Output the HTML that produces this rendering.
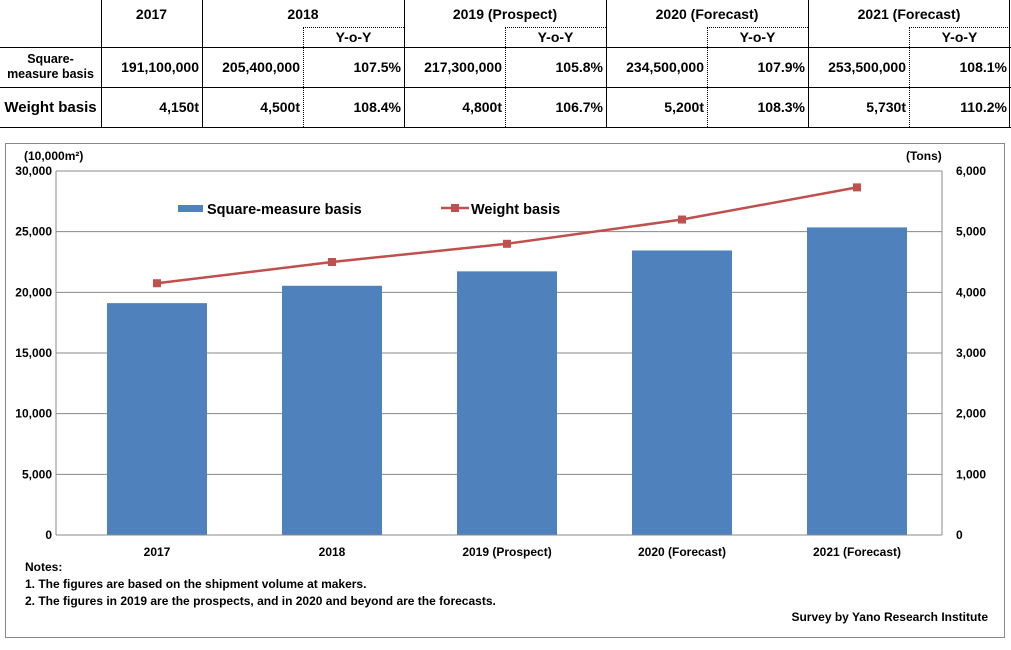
<!DOCTYPE html>
<html><head><meta charset="utf-8">
<style>
body{margin:0;width:1011px;height:650px;background:#fff;font-family:"Liberation Sans","DejaVu Sans",sans-serif;overflow:hidden;position:relative}
.c{position:absolute;font-weight:bold;font-size:14px;white-space:nowrap;box-sizing:border-box;display:flex;align-items:center}
.r{justify-content:flex-end;padding-right:3px}
.m{justify-content:center;text-align:center}
.h{position:absolute;height:0;border-top:1px solid #000}
.v{position:absolute;width:0;border-left:1px solid #000}
.hd{position:absolute;height:0;border-top:1px dotted #000}
.vd{position:absolute;width:0;border-left:1px dotted #000}
</style></head><body>
<div>
<div class="h" style="left:0;width:1011px;top:47px"></div>
<div class="h" style="left:0;width:1011px;top:87px"></div>
<div class="h" style="left:0;width:1011px;top:127px"></div>
<div class="v" style="left:101px;top:0;height:128px"></div>
<div class="v" style="left:202px;top:0;height:128px"></div>
<div class="v" style="left:404px;top:0;height:128px"></div>
<div class="v" style="left:606px;top:0;height:128px"></div>
<div class="v" style="left:808px;top:0;height:128px"></div>
<div class="v" style="left:1009px;top:0;height:128px"></div>
<div class="vd" style="left:303px;top:27px;height:100px"></div>
<div class="vd" style="left:505px;top:27px;height:100px"></div>
<div class="vd" style="left:707px;top:27px;height:100px"></div>
<div class="vd" style="left:909px;top:27px;height:100px"></div>
<div class="hd" style="left:303px;width:101px;top:27px"></div>
<div class="hd" style="left:505px;width:101px;top:27px"></div>
<div class="hd" style="left:707px;width:101px;top:27px"></div>
<div class="hd" style="left:909px;width:101px;top:27px"></div>
<div class="c m" style="left:101px;width:101px;top:0;height:27px">2017</div>
<div class="c m" style="left:202px;width:202px;top:0;height:27px">2018</div>
<div class="c m" style="left:404px;width:202px;top:0;height:27px">2019 (Prospect)</div>
<div class="c m" style="left:606px;width:202px;top:0;height:27px">2020 (Forecast)</div>
<div class="c m" style="left:808px;width:202px;top:0;height:27px">2021 (Forecast)</div>
<div class="c m" style="left:303px;width:101px;top:27px;height:20px">Y-o-Y</div>
<div class="c m" style="left:505px;width:101px;top:27px;height:20px">Y-o-Y</div>
<div class="c m" style="left:707px;width:101px;top:27px;height:20px">Y-o-Y</div>
<div class="c m" style="left:909px;width:101px;top:27px;height:20px">Y-o-Y</div>
<div class="c m" style="left:0;width:101px;top:47px;height:40px;font-size:12.5px;line-height:15px">Square-<br>measure basis</div>
<div class="c m" style="left:0;width:101px;top:87px;height:40px;font-size:15px">Weight basis</div>
<div class="c r" style="left:101px;width:101px;top:47px;height:40px">191,100,000</div>
<div class="c r" style="left:202px;width:101px;top:47px;height:40px">205,400,000</div>
<div class="c r" style="left:303px;width:101px;top:47px;height:40px">107.5%</div>
<div class="c r" style="left:404px;width:101px;top:47px;height:40px">217,300,000</div>
<div class="c r" style="left:505px;width:101px;top:47px;height:40px">105.8%</div>
<div class="c r" style="left:606px;width:101px;top:47px;height:40px">234,500,000</div>
<div class="c r" style="left:707px;width:101px;top:47px;height:40px">107.9%</div>
<div class="c r" style="left:808px;width:101px;top:47px;height:40px">253,500,000</div>
<div class="c r" style="left:909px;width:101px;top:47px;height:40px">108.1%</div>
<div class="c r" style="left:101px;width:101px;top:87px;height:40px">4,150t</div>
<div class="c r" style="left:202px;width:101px;top:87px;height:40px">4,500t</div>
<div class="c r" style="left:303px;width:101px;top:87px;height:40px">108.4%</div>
<div class="c r" style="left:404px;width:101px;top:87px;height:40px">4,800t</div>
<div class="c r" style="left:505px;width:101px;top:87px;height:40px">106.7%</div>
<div class="c r" style="left:606px;width:101px;top:87px;height:40px">5,200t</div>
<div class="c r" style="left:707px;width:101px;top:87px;height:40px">108.3%</div>
<div class="c r" style="left:808px;width:101px;top:87px;height:40px">5,730t</div>
<div class="c r" style="left:909px;width:101px;top:87px;height:40px">110.2%</div>
</div>
<svg id="chart" width="1011" height="650" style="position:absolute;left:0;top:0;pointer-events:none" font-family="Liberation Sans, DejaVu Sans, sans-serif" font-weight="bold">
<rect x="5.5" y="143.5" width="999" height="494" fill="none" stroke="#888"/>
</svg>
<script>
const categories=["2017","2018","2019 (Prospect)","2020 (Forecast)","2021 (Forecast)"];
const squareValues=[19110,20540,21730,23450,25350];
const weightValues=[4150,4500,4800,5200,5730];
const leftTicks=[0,5000,10000,15000,20000,25000,30000];
const rightTicks=[0,1000,2000,3000,4000,5000,6000];
const NS="http://www.w3.org/2000/svg",svg=document.getElementById("chart");
const AX0=56,AX1=942,Y0=535,Y1=171,B0=69.5,band=175;
const yL=v=>Y0-(v/30000)*(Y0-Y1), yR=v=>Y0-(v/6000)*(Y0-Y1);
const xc=i=>B0+band*(i+0.5);
function mk(t,a,txt){const e=document.createElementNS(NS,t);for(const k in a)e.setAttribute(k,a[k]);if(txt!=null)e.textContent=txt;svg.appendChild(e);return e;}
const fmt=v=>v.toLocaleString("en-US");
leftTicks.forEach(v=>{
 if(v>0){const g=mk("line",{x1:AX0,x2:AX1,y1:yL(v),y2:yL(v),stroke:"#888","stroke-width":1});
 
 }
 const t=mk("text",{x:AX0-4,y:yL(v)+4,"text-anchor":"end","font-size":12},fmt(v));
 
 
});
rightTicks.forEach(v=>{
 const t=mk("text",{x:AX1+14,y:yR(v)+4,"font-size":12},fmt(v));
 
 
});
mk("line",{x1:AX0,x2:AX0,y1:Y1,y2:Y0,stroke:"#888"});
mk("line",{x1:AX1,x2:AX1,y1:Y1,y2:Y0,stroke:"#888"});
squareValues.forEach((v,i)=>{
 const b=mk("rect",{x:xc(i)-50,y:yL(v),width:100,height:Y0-yL(v),fill:"#4f81bd"});
 
 
});
mk("line",{x1:AX0,x2:AX1,y1:Y0,y2:Y0,stroke:"#888"});
categories.forEach((c,i)=>{
 const t=mk("text",{x:xc(i),y:556,"text-anchor":"middle","font-size":12},c);
 
 
});
const pl=mk("polyline",{points:weightValues.map((v,i)=>xc(i)+","+yR(v)).join(" "),fill:"none",stroke:"#c0504d","stroke-width":2.5});


weightValues.forEach((v,i)=>{
 const m=mk("rect",{x:xc(i)-4,y:yR(v)-4,width:8,height:8,fill:"#c0504d"});
 
 
});
const a1=mk("text",{x:24,y:160,"font-size":12},"(10,000m²)");
const a2=mk("text",{x:906,y:160,"font-size":12},"(Tons)");
const l1=mk("rect",{x:178,y:205,width:25,height:7,fill:"#4f81bd"});
const l2=mk("text",{x:207,y:214,"font-size":14.5},"Square-measure basis");
mk("line",{x1:441,x2:469,y1:208,y2:208,stroke:"#c0504d","stroke-width":2.5});
const l3=mk("rect",{x:451,y:204,width:8,height:8,fill:"#c0504d"});
const l4=mk("text",{x:471,y:214,"font-size":14.5},"Weight basis");
[["Notes:",571],["1. The figures are based on the shipment volume at makers.",588],["2. The figures in 2019 are the prospects, and in 2020 and beyond are the forecasts.",605]].forEach(n=>{
 const t=mk("text",{x:25,y:n[1],"font-size":12},n[0]);
 
 
});
const s=mk("text",{x:988,y:621,"text-anchor":"end","font-size":12},"Survey by Yano Research Institute");


</script>
</body></html>
